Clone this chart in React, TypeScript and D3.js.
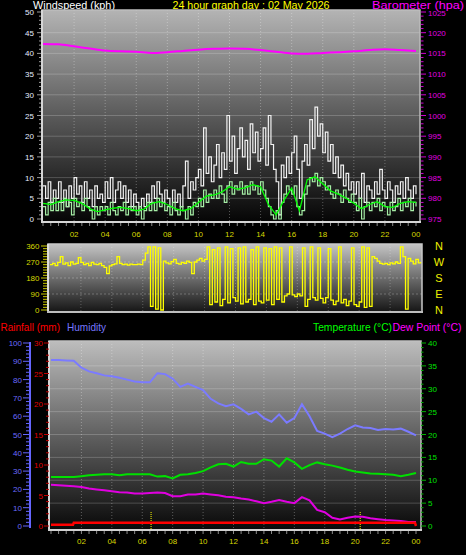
import React from 'react';
import * as d3 from 'd3';

// ---------- DATA ----------
const xLabels = ['02', '04', '06', '08', '10', '12', '14', '16', '18', '20', '22', '00'];
const windTicks = [0, 5, 10, 15, 20, 25, 30, 35, 40, 45, 50];
const baroTicks = [975, 980, 985, 990, 995, 1000, 1005, 1010, 1015, 1020, 1025];
const dirTicks = [0, 90, 180, 270, 360];
const compass = ['N', 'W', 'S', 'E', 'N'];
const humTicks = [0, 10, 20, 30, 40, 50, 60, 70, 80, 90, 100];
const rainTicks = [0, 5, 10, 15, 20, 25, 30];
const tempTicks = [0, 5, 10, 15, 20, 25, 30, 35, 40];

// wind gust (kph), 10-minute samples 00:00 .. 24:00
const gust = [
  8, 5, 9, 4, 7, 5, 9, 4, 7, 3, 8, 5, 10, 6, 8, 4, 9, 5, 7, 3, 8, 5, 6, 4,
  9, 5, 10, 4, 7, 9, 5, 8, 4, 7, 3, 6, 4, 2, 5, 3, 6, 4, 8, 5, 9, 6, 4, 7,
  5, 3, 7, 4, 6, 3, 8, 14, 5, 9, 7, 10, 12, 8, 22, 11, 15, 9, 13, 18, 10, 16, 12, 25,
  14, 20, 11, 17, 22, 15, 19, 12, 23, 16, 21, 14, 17, 22, 13, 25, 18, 12, 9, 1, 13, 10, 15, 11,
  16, 20, 12, 5, 14, 18, 13, 24, 17, 27, 20, 23, 16, 21, 14, 18, 11, 15, 10, 13, 8, 11, 7, 9,
  6, 9, 5, 11, 4, 8, 7, 5, 9, 6, 12, 7, 5, 9, 7, 4, 8, 6, 9, 5, 10, 7, 5, 8, 6,
];
// wind speed (kph), 10-minute samples
const speed = [
  3, 1, 4, 2, 5, 2, 4, 2, 5, 3, 4, 1, 5, 3, 4, 2, 5, 3, 2, 0, 3, 1, 3, 2,
  3, 1, 4, 2, 1, 3, 2, 4, 1, 3, 2, 3, 1, 3, 0, 2, 4, 2, 4, 2, 5, 3, 4, 2,
  3, 1, 4, 2, 1, 3, 2, 0, 3, 1, 4, 3, 5, 3, 7, 4, 6, 5, 7, 5, 8, 6, 4, 8,
  9, 6, 8, 7, 9, 6, 8, 6, 9, 7, 8, 6, 9, 7, 5, 3, 1, 0, 2, 0, 4, 6, 8, 7,
  6, 8, 3, 1, 2, 6, 8, 10, 9, 11, 8, 10, 9, 7, 8, 6, 5, 7, 6, 4, 7, 5, 4, 6,
  4, 2, 5, 0, 3, 4, 2, 4, 3, 5, 2, 4, 3, 1, 4, 2, 3, 5, 2, 4, 3, 5, 2, 4, 3,
];
// average wind speed (kph), 30-minute samples
const avgSpeed = [
  3.8, 3.5, 4.2, 4.6, 4.5, 3.8, 2.5, 1.8, 2.2, 2.6, 2.8, 2.5, 2.0, 2.4, 3.8, 4.2,
  3.5, 2.5, 2.0, 2.5, 4.0, 5.5, 5.8, 6.5, 7.8, 7.2, 7.5, 8.3, 7.8, 3.5, 1.0, 4.5,
  7.5, 2.0, 9.5, 10.2, 8.5, 6.8, 6.0, 5.0, 3.8, 2.5, 3.5, 4.2, 3.0, 2.8, 3.8, 4.2, 4.0,
];
// barometer (hPa), hourly
const baro = [
  1017.3, 1017.2, 1016.7, 1016.2, 1015.7, 1015.5, 1015.4, 1015.1, 1015.3, 1015.6, 1015.9, 1016.1,
  1016.2, 1016.1, 1015.8, 1015.4, 1015.0, 1014.9, 1015.1, 1015.3, 1015.5, 1015.8, 1016.0, 1015.8, 1015.6,
];
// wind direction (deg), 10-minute samples
const windDir = [
  255, 262, 250, 268, 300, 258, 265, 250, 270, 258, 262, 295, 268, 255, 262, 250, 268, 258, 255, 262,
  250, 240, 205, 248, 255, 260, 300, 262, 255, 258, 252, 258, 255, 255, 258, 255, 280, 320,
  355, 20, 355, 5, 350, 0, 275, 265, 260, 272, 285, 262, 258, 268, 262, 275, 268, 205, 270, 280, 290, 275, 285,
  355, 30, 340, 45, 350, 25, 60, 355, 40, 345,
  70, 50, 350, 35, 355, 45, 60, 340, 30, 355,
  50, 40, 350, 55, 345, 30, 355, 60, 350, 45,
  80, 90, 355, 85, 75, 90, 80, 350, 20, 60,
  355, 70, 55, 350, 65, 40, 70, 345, 55, 30,
  50, 355, 40, 60, 25, 50, 350, 30, 20, 45,
  355, 15, 350, 20,
  300, 290, 275, 262, 258, 262, 255, 265, 260, 270, 262, 355, 300, 5, 290, 275, 260, 285, 265, 270,
];
// humidity (%), 30-minute samples
const humidity = [
  90.7, 90.7, 90.5, 90.3, 86.5, 84.5, 83.5, 82.3, 81.8, 81.0, 80.0, 79.0, 78.5, 78.5, 83.5, 83.0,
  80.5, 76.0, 77.8, 76.0, 74.3, 69.5, 67.0, 65.5, 66.5, 64.0, 61.0, 62.5, 59.0, 57.0, 61.0, 56.5,
  59.0, 66.5, 60.0, 52.0, 50.5, 48.5, 50.5, 53.0, 55.0, 53.8, 53.5, 52.5, 53.0, 52.8, 53.2, 51.5, 49.5,
];
// temperature (°C), 30-minute samples
const temperature = [
  10.7, 10.7, 10.7, 10.7, 10.9, 11.1, 11.2, 11.3, 11.3, 11.1, 11.3, 11.3, 11.3, 11.3, 10.8, 10.9,
  10.4, 11.2, 11.3, 11.6, 12.0, 12.8, 13.5, 13.6, 13.0, 14.0, 13.6, 13.6, 14.6, 14.3, 13.0, 14.8,
  13.9, 12.5, 13.3, 13.9, 13.5, 13.2, 12.8, 12.3, 11.9, 11.7, 11.5, 11.4, 11.3, 11.2, 10.9, 11.2, 11.6,
];
// dew point (°C), 30-minute samples
const dewPoint = [
  9.0, 8.9, 8.8, 8.7, 8.5, 8.2, 8.0, 7.8, 7.6, 7.4, 7.3, 7.1, 7.1, 7.2, 7.3, 7.2,
  6.5, 6.5, 6.9, 6.9, 7.1, 6.9, 6.7, 6.4, 6.3, 6.0, 5.8, 5.4, 5.0, 5.3, 5.7, 5.3,
  5.0, 6.3, 5.6, 3.5, 3.0, 1.8, 1.4, 1.8, 2.1, 2.0, 1.7, 1.5, 1.3, 1.2, 1.1, 0.9, 0.9,
];
// rainfall (mm)
const rainHours = [0, 1.45, 1.5, 23.93, 24];
const rainValues = [0.2, 0.2, 0.55, 0.55, 0];
// sunrise / sunset (hours)
const sunEvents = [6.58, 20.33];

// ---------- helpers ----------
const FONT = "'Liberation Sans', Arial, sans-serif";
const range = (a: number, b: number, s: number) => d3.range(a, b + s / 2, s);

export default function App() {
  // top panel
  const xTop = d3.scaleLinear().domain([0, 24]).range([43, 416]);
  const yWind = d3.scaleLinear().domain([0, 50]).range([219, 12]);
  const yBaro = d3.scaleLinear().domain([975, 1025]).range([219, 12]);
  // middle panel
  const xMid = d3.scaleLinear().domain([0, 24]).range([50, 421]);
  const yDir = d3.scaleLinear().domain([0, 360]).range([310, 246]);
  // bottom panel
  const xBot = d3.scaleLinear().domain([0, 24]).range([51, 416]);
  const yHum = d3.scaleLinear().domain([0, 100]).range([526, 343]);
  const yRain = d3.scaleLinear().domain([0, 30]).range([526, 343]);
  const yTemp = d3.scaleLinear().domain([0, 40]).range([526, 343]);

  const lineOf = (vals: number[], step: number, x: any, y: any, curve: any = d3.curveLinear) =>
    d3.line<number>().x((_, i) => x(i * step)).y((d) => y(d)).curve(curve)(vals) || '';

  const gustPath = lineOf(gust, 1 / 6, xTop, yWind, d3.curveStepAfter);
  const speedPath = lineOf(speed, 1 / 6, xTop, yWind, d3.curveStepAfter);
  const avgPath = lineOf(avgSpeed, 0.5, xTop, yWind);
  const baroPath = lineOf(baro, 1, xTop, yBaro, d3.curveMonotoneX);
  const dirPath = lineOf(windDir, 1 / 6, xMid, yDir, d3.curveStepAfter);
  const humPath = lineOf(humidity, 0.5, xBot, yHum);
  const tempPath = lineOf(temperature, 0.5, xBot, yTemp);
  const dewPath = lineOf(dewPoint, 0.5, xBot, yTemp);
  const rainPath =
    d3.line<number>().x((_, i) => xBot(rainHours[i])).y((d) => yRain(d))(rainValues) || '';

  const hourTicks2 = range(2, 24, 2);

  return (
    <svg
      width={466}
      height={555}
      style={{ position: 'fixed', left: 0, top: 0, display: 'block', background: '#000' }}
      fontFamily={FONT}
    >
      <defs>
        <linearGradient id="gTop" x1="0" y1="0" x2="0" y2="1">
          <stop offset="0" stopColor="#b4b4b4" />
          <stop offset="0.5" stopColor="#5a5a5a" />
          <stop offset="1" stopColor="#050505" />
        </linearGradient>
        <linearGradient id="gMid" x1="0" y1="0" x2="0" y2="1">
          <stop offset="0" stopColor="#c4c4c4" />
          <stop offset="1" stopColor="#151515" />
        </linearGradient>
        <linearGradient id="gBot" x1="0" y1="0" x2="0" y2="1">
          <stop offset="0" stopColor="#bdbdbd" />
          <stop offset="0.5" stopColor="#606060" />
          <stop offset="1" stopColor="#080808" />
        </linearGradient>
        <clipPath id="cTop"><rect x={42} y={10} width={378} height={212} /></clipPath>
        <clipPath id="cMid"><rect x={48} y={244} width={374} height={68} /></clipPath>
        <clipPath id="cBot"><rect x={49} y={341} width={372} height={189} /></clipPath>
      </defs>
      <rect x={0} y={0} width={466} height={555} fill="#000" />

      {/* ---------- titles ---------- */}
      <g fontSize={11}>
        <text x={33} y={8.5} fill="#ffffff" textLength={82} lengthAdjust="spacingAndGlyphs">Windspeed (kph)</text>
        <text x={172.5} y={8.5} fill="#ffff00" textLength={157} lengthAdjust="spacingAndGlyphs">24 hour graph day : 02 May 2026</text>
        <text x={372} y={9} fill="#ff00ff" fontSize={10.5} textLength={92} lengthAdjust="spacingAndGlyphs">Barometer (hpa)</text>
        <text x={0.5} y={331} fill="#ff0000" textLength={59.5} lengthAdjust="spacingAndGlyphs">Rainfall (mm)</text>
        <text x={67} y={331} fill="#7777ff" textLength={39} lengthAdjust="spacingAndGlyphs">Humidity</text>
        <text x={313} y={331} fill="#00ff00" textLength={79} lengthAdjust="spacingAndGlyphs">Temperature (°C)</text>
        <text x={392.5} y={331} fill="#ff00ff" textLength={69} lengthAdjust="spacingAndGlyphs">Dew Point (°C)</text>
      </g>

      {/* ---------- TOP PANEL ---------- */}
      <rect x={42} y={10} width={378} height={212} fill="url(#gTop)" />
      <g clipPath="url(#cTop)">
        {windTicks.slice(1, -1).map((t) => (
          <line key={'hw' + t} x1={42} x2={420} y1={yWind(t)} y2={yWind(t)} stroke="#ffffff" strokeOpacity={0.2} />
        ))}
        {hourTicks2.slice(0, -1).map((h) => (
          <line key={'vw' + h} x1={xTop(h)} x2={xTop(h)} y1={10} y2={222} stroke="#ffffff" strokeOpacity={0.3} strokeDasharray="1,2" />
        ))}
        <path d={gustPath} fill="none" stroke="#f2f2f2" strokeWidth={1.2} />
        <path d={speedPath} fill="none" stroke="#a6eea6" strokeWidth={1.2} />
        <path d={avgPath} fill="none" stroke="#00ff00" strokeWidth={1.3} />
        <path d={baroPath} fill="none" stroke="#ff00ff" strokeWidth={2} />
      </g>
      <rect x={42} y={10} width={378} height={212} fill="none" stroke="#bdbdbd" strokeWidth={1.5} />
      <line x1={42} x2={42} y1={10} y2={223} stroke="#d6d6d6" strokeWidth={2} />
      <line x1={41} x2={421} y1={222} y2={222} stroke="#d6d6d6" strokeWidth={2} />
      {/* left wind axis */}
      {range(0, 50, 1).map((t) => (
        <line key={'wt' + t} x1={t % 5 === 0 ? 37 : 39} x2={41} y1={yWind(t)} y2={yWind(t)} stroke="#9a9a9a" />
      ))}
      {windTicks.map((t) => (
        <text key={'wl' + t} x={34} y={yWind(t) + 3} fill="#e6ecff" fontSize={8} textAnchor="end">{t}</text>
      ))}
      {/* right baro axis */}
      {range(975, 1025, 1).map((t) => (
        <line key={'bt' + t} x1={421} x2={t % 5 === 0 ? 426 : 423.5} y1={yBaro(t)} y2={yBaro(t)} stroke="#d000d0" />
      ))}
      {baroTicks.map((t) => (
        <text key={'bl' + t} x={428} y={yBaro(t) + (t === 1025 ? 4 : 3)} fill="#e000e0" fontSize={8}>{t}</text>
      ))}
      {/* x axis ticks & labels (top) */}
      {range(0, 24, 0.5).map((h) => (
        <line key={'xt' + h} x1={xTop(h)} x2={xTop(h)} y1={223} y2={226} stroke="#8a8a8a" />
      ))}
      {hourTicks2.map((h, i) => (
        <text key={'xl' + h} x={xTop(h)} y={237} fill="#d6d600" fontSize={8} textAnchor="middle">{xLabels[i]}</text>
      ))}

      {/* ---------- MIDDLE PANEL ---------- */}
      <rect x={48} y={244} width={374} height={68} fill="url(#gMid)" />
      <g clipPath="url(#cMid)">
        {dirTicks.slice(1, -1).map((t) => (
          <line key={'hd' + t} x1={48} x2={422} y1={yDir(t)} y2={yDir(t)} stroke="#ffffff" strokeOpacity={0.25} strokeDasharray="2,2" />
        ))}
        {hourTicks2.slice(0, -1).map((h) => (
          <line key={'vd' + h} x1={xMid(h)} x2={xMid(h)} y1={244} y2={312} stroke="#ffffff" strokeOpacity={0.25} strokeDasharray="1,2" />
        ))}
        <path d={dirPath} fill="none" stroke="#ffff00" strokeWidth={1.3} />
      </g>
      <rect x={48} y={244} width={374} height={68} fill="none" stroke="#c8c8c8" strokeWidth={1.5} />
      <line x1={48} x2={48} y1={244} y2={313} stroke="#dcdcdc" strokeWidth={2} />
      <line x1={47} x2={423} y1={312} y2={312} stroke="#bdbdbd" strokeWidth={2} />
      {range(0, 360, 15).map((t) => (
        <line key={'dt' + t} x1={t % 90 === 0 ? 41 : 43} x2={47} y1={yDir(t)} y2={yDir(t)} stroke="#cccc00" />
      ))}
      {dirTicks.map((t) => (
        <text key={'dl' + t} x={39.5} y={yDir(t) + 3} fill="#d8d800" fontSize={8} textAnchor="end">{t}</text>
      ))}
      {compass.map((c, i) => (
        <text key={'cp' + i} x={439} y={yDir(360 - i * 90) + 4} fill="#f0f000" fontSize={11} textAnchor="middle">{c}</text>
      ))}

      {/* ---------- BOTTOM PANEL ---------- */}
      <rect x={49} y={341} width={372} height={189} fill="url(#gBot)" />
      <g clipPath="url(#cBot)">
        {tempTicks.slice(1, -1).map((t) => (
          <line key={'ht' + t} x1={49} x2={421} y1={yTemp(t)} y2={yTemp(t)} stroke="#ffffff" strokeOpacity={0.2} />
        ))}
        {hourTicks2.slice(0, -1).map((h) => (
          <line key={'vt' + h} x1={xBot(h)} x2={xBot(h)} y1={341} y2={530} stroke="#ffffff" strokeOpacity={0.3} strokeDasharray="1,2" />
        ))}
        {sunEvents.map((h) => (
          <line key={'sun' + h} x1={xBot(h)} x2={xBot(h)} y1={512} y2={529} stroke="#ffff00" strokeDasharray="1,1" />
        ))}
        <path d={humPath} fill="none" stroke="#7b7bff" strokeWidth={2} />
        <path d={tempPath} fill="none" stroke="#00e000" strokeWidth={2} />
        <path d={dewPath} fill="none" stroke="#e000e0" strokeWidth={2} />
        <path d={rainPath} fill="none" stroke="#ff0000" strokeWidth={2.5} />
      </g>
      <rect x={49} y={341} width={372} height={189} fill="none" stroke="#c0c0c0" strokeWidth={1.5} />
      <line x1={49} x2={49} y1={341} y2={531} stroke="#d6d6d6" strokeWidth={2} />
      <line x1={48} x2={422} y1={530} y2={530} stroke="#d0d0d0" strokeWidth={2} />
      {/* humidity axis */}
      <line x1={30} x2={30} y1={342} y2={528} stroke="#6565ff" strokeWidth={2} />
      {range(0, 100, 2).map((t) => (
        <line key={'hmt' + t} x1={t % 10 === 0 ? 23 : 26} x2={30} y1={yHum(t)} y2={yHum(t)} stroke="#6565ff" />
      ))}
      {humTicks.map((t) => (
        <text key={'hml' + t} x={22} y={yHum(t) + 3} fill="#6b6bff" fontSize={8} textAnchor="end">{t}</text>
      ))}
      {/* rain axis */}
      {range(0, 30, 1).map((t) => (
        <line key={'rt' + t} x1={t % 5 === 0 ? 44 : 46} x2={49} y1={yRain(t)} y2={yRain(t)} stroke="#c00000" />
      ))}
      {rainTicks.map((t) => (
        <text key={'rl' + t} x={43} y={yRain(t) + 3} fill="#e00000" fontSize={8} textAnchor="end">{t}</text>
      ))}
      {/* temperature axis */}
      {range(0, 40, 1).map((t) => (
        <line key={'tt' + t} x1={421} x2={t % 5 === 0 ? 426 : 423.5} y1={yTemp(t)} y2={yTemp(t)} stroke="#00b000" />
      ))}
      {tempTicks.map((t) => (
        <text key={'tl' + t} x={428} y={yTemp(t) + 3} fill="#00e000" fontSize={8}>{t}</text>
      ))}
      {/* x axis bottom */}
      {range(0, 24, 0.5).map((h) => (
        <line key={'bxt' + h} x1={xBot(h)} x2={xBot(h)} y1={531} y2={534} stroke="#8a8a8a" />
      ))}
      {hourTicks2.map((h, i) => (
        <text key={'bxl' + h} x={xBot(h)} y={544} fill="#d6d600" fontSize={8} textAnchor="middle">{xLabels[i]}</text>
      ))}
    </svg>
  );
}
